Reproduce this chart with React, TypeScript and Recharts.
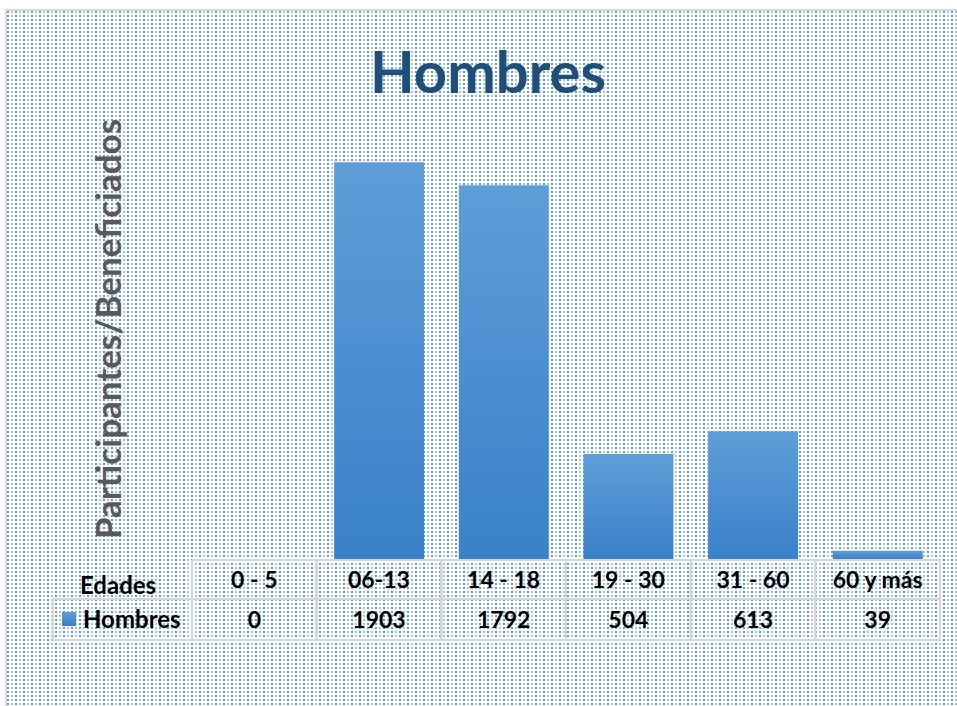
import React from 'react';
import { BarChart, Bar, XAxis, YAxis } from 'recharts';

const categories = ['0 - 5', '06-13', '14 - 18', '19 - 30', '31 - 60', '60 y más'];
const hombres = [0, 1903, 1792, 504, 613, 39];
const seriesName = 'Hombres';
const rowHeader = 'Edades';

const data = categories.map((c, i) => ({ edad: c, hombres: hombres[i] }));

const W = 957;
const H = 706;
const margin = { top: 142, right: 17, bottom: 57, left: 192 };
const cellW = (W - margin.left - margin.right) / categories.length;
const leftColW = 139;
const font = 'Lato, Calibri, sans-serif';
const gridColor = '#d6d6d6';

const TableTick = (props: any) => {
  const { x, y, payload, index } = props;
  const x0 = x - cellW / 2;
  const x1 = x + cellW / 2;
  const top = y + 1;
  const mid = top + 39;
  const bot = top + 80;
  const value = hombres[index];
  return (
    <g>
      <line x1={x0} y1={top} x2={x1} y2={top} stroke={gridColor} strokeWidth={2} />
      <line x1={x0} y1={mid} x2={x1} y2={mid} stroke={gridColor} strokeWidth={2} />
      <line x1={x0} y1={bot} x2={x1} y2={bot} stroke={gridColor} strokeWidth={2} />
      <line x1={x0} y1={top} x2={x0} y2={bot} stroke={gridColor} strokeWidth={2} />
      <line x1={x1} y1={top} x2={x1} y2={bot} stroke={gridColor} strokeWidth={2} />
      <text x={x} y={top + 28} textAnchor="middle" fontFamily={font} fontWeight={700} fontSize={23} fill="#000">
        {payload.value}
      </text>
      <text x={x} y={mid + 29} textAnchor="middle" fontFamily={font} fontWeight={700} fontSize={23} fill="#000">
        {value}
      </text>
      {index === 0 && (
        <g>
          <line x1={x0 - leftColW} y1={mid} x2={x0} y2={mid} stroke={gridColor} strokeWidth={2} />
          <line x1={x0 - leftColW} y1={bot} x2={x0} y2={bot} stroke={gridColor} strokeWidth={2} />
          <line x1={x0 - leftColW} y1={mid} x2={x0 - leftColW} y2={bot} stroke={gridColor} strokeWidth={2} />
          <text x={x0 - leftColW + 27} y={top + 34} fontFamily={font} fontWeight={700} fontSize={24} fill="#000">
            {rowHeader}
          </text>
          <rect x={x0 - leftColW + 9} y={mid + 13} width={14} height={14} fill="url(#barGrad)" />
          <text x={x0 - leftColW + 30} y={mid + 29} fontFamily={font} fontWeight={700} fontSize={24} fill="#000">
            {seriesName}
          </text>
        </g>
      )}
    </g>
  );
};

export default function App() {
  return (
    <div style={{ position: 'absolute', left: 0, top: 0, width: W, height: H, overflow: 'hidden' }}>
      <svg width={W} height={H} style={{ position: 'absolute', left: 0, top: 0 }}>
        <defs>
          <pattern id="dots" width={8} height={4} patternUnits="userSpaceOnUse" x={6} y={10}>
            <rect width={8} height={4} fill="#ffffff" />
            <rect x={1} y={1} width={2} height={2} fill="#5b9bd5" />
            <rect x={5} y={1} width={2} height={2} fill="#9fc5ea" />
          </pattern>
        </defs>
        <rect x={6} y={10} width={W + 10} height={H + 10} fill="url(#dots)" stroke="#d9d9d9" strokeWidth={2} />
        <text x={488} y={93} textAnchor="middle" fontFamily={font} fontWeight={700} fontSize={58} fill="#1f4e79">
          Hombres
        </text>
        <text
          x={121}
          y={329}
          transform="rotate(-90 121 329)"
          textAnchor="middle"
          fontFamily={font}
          fontWeight={700}
          fontSize={35}
          fill="#595959"
        >
          Participantes/Beneficiados
        </text>
      </svg>
      <div style={{ position: 'absolute', left: 0, top: 0 }}>
        <BarChart width={W} height={H} data={data} margin={margin} barCategoryGap="14%">
          <defs>
            <linearGradient id="barGrad" x1="0" y1="0" x2="0" y2="1">
              <stop offset="0%" stopColor="#5e9dd8" />
              <stop offset="100%" stopColor="#3a81c9" />
            </linearGradient>
          </defs>
          <YAxis hide domain={[0, 2000]} />
          <XAxis
            dataKey="edad"
            height={90}
            axisLine={false}
            tickLine={false}
            tickSize={0}
            tickMargin={0}
            interval={0}
            tick={<TableTick />}
          />
          <Bar dataKey="hombres" fill="url(#barGrad)" isAnimationActive={false} />
        </BarChart>
      </div>
    </div>
  );
}
